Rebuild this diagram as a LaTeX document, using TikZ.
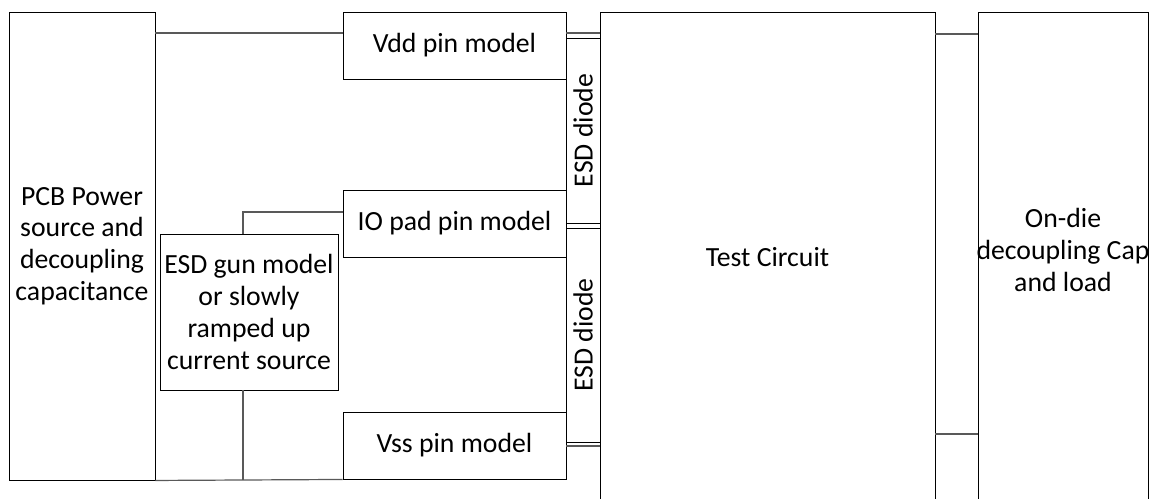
\documentclass[tikz,border=0pt]{standalone}
\usepackage{fontspec}
\setmainfont{Carlito}
\begin{document}
\begin{tikzpicture}[x=0.75pt,y=-0.75pt,line width=0.7pt]
\def\u{0.75pt}
\tikzset{blk/.style={draw,align=center,inner sep=0pt,
  font=\fontsize{20.8}{23.8}\selectfont},
  wire/.style={draw=black!65,line width=0.9pt}}
\useasboundingbox (0,0) rectangle (1160,499);
% ---- left: supply, pin models, ESD source ----
\node[blk,minimum width=146*\u,minimum height=468*\u] (pcb) at (82,246)
  {PCB Power\\source and\\decoupling\\capacitance};
\node[blk,minimum width=223*\u,minimum height=67*\u] (vdd) at (454.5,45.5) {Vdd pin model};
\node[blk,minimum width=223*\u,minimum height=67*\u] (io) at (454.5,223.5) {IO pad pin model};
\node[blk,minimum width=223*\u,minimum height=67*\u] (vss) at (454.5,445.5) {Vss pin model};
\node[blk,minimum width=178*\u,minimum height=156*\u] (gun) at (249,312)
  {ESD gun model\\or slowly\\ramped up\\current source};
% ---- middle: diodes and circuit ----
\node[blk,rotate=90,minimum width=185*\u,minimum height=34*\u] (esda) at (583,130.5) {ESD diode};
\node[blk,rotate=90,minimum width=214*\u,minimum height=34*\u] (esdb) at (583,335) {ESD diode};
\node[blk,minimum width=335*\u,minimum height=490*\u] (test) at (767.5,257) {Test Circuit};
% ---- right: on-die load ----
\node[blk,minimum width=170*\u,minimum height=490*\u] (load) at (1063,257) {};
\node[blk,draw=none] (loadtxt) at (1063,250) {On-die\\decoupling Cap\\and load};
% ---- wires ----
\draw[wire] (pcb.east |- 0,33) -- (vdd.west |- 0,33);
\draw[wire] (vdd.east |- 0,33) -- (test.west |- 0,33);
\draw[wire] (gun.north -| 243,0) |- (io.west |- 0,212);
\draw[wire] (gun.south -| 243,0) -- (243,480);
\draw[wire] (pcb.south east) -- (vss.south west);
\draw[wire] (vss.east |- 0,446) -- (test.west |- 0,446);
\draw[wire] (test.east |- 0,34) -- (load.west |- 0,34);
\draw[wire] (test.east |- 0,434) -- (load.west |- 0,434);
\end{tikzpicture}
\end{document}
